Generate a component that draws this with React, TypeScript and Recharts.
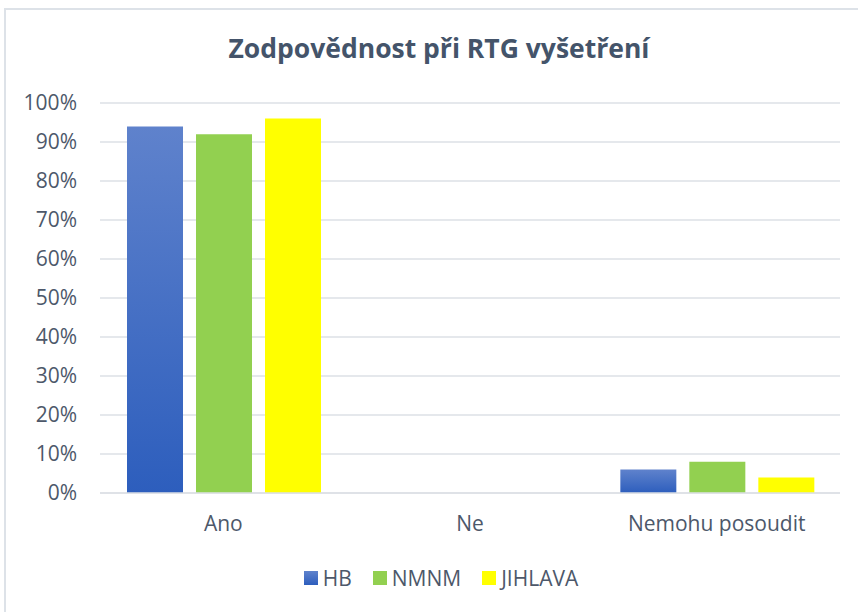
import { Bar, BarChart, CartesianGrid, XAxis, YAxis } from "recharts";

const categories = ["Ano", "Ne", "Nemohu posoudit"];
const hbValues = [94, 0, 6];
const nmnmValues = [92, 0, 8];
const jihlavaValues = [96, 0, 4];
const yTicks = [0, 10, 20, 30, 40, 50, 60, 70, 80, 90, 100];

const rows = categories.map((name, i) => ({
  name,
  HB: hbValues[i],
  NMNM: nmnmValues[i],
  JIHLAVA: jihlavaValues[i],
}));

const SERIES = [
  { key: "HB", fill: "url(#hbFill)", swatch: "linear-gradient(#5F82CC, #2D5EBD)" },
  { key: "NMNM", fill: "#92D050", swatch: "#92D050" },
  { key: "JIHLAVA", fill: "#FFFF00", swatch: "#FFFF00" },
];

const TEXT = "#4D586A";
const FONT = "'Open Sans', sans-serif";

function LegendRow() {
  return (
    <div
      style={{
        position: "absolute",
        left: 0,
        top: 564,
        width: 882,
        display: "flex",
        justifyContent: "center",
        gap: 21,
        fontFamily: FONT,
        fontSize: 21,
        color: TEXT,
      }}
    >
      {SERIES.map((s) => (
        <span key={s.key} style={{ display: "flex", alignItems: "center", gap: 5 }}>
          <span style={{ display: "inline-block", width: 14, height: 14, background: s.swatch }} />
          {s.key}
        </span>
      ))}
    </div>
  );
}

export default function App() {
  return (
    <div style={{ position: "absolute", left: 0, top: 0, width: 858, height: 612, overflow: "hidden", background: "#fff" }}>
      <div
        style={{
          position: "absolute",
          left: 4,
          top: 8,
          width: 900,
          height: 700,
          border: "2px solid #DDE2E8",
        }}
      />
      <div
        style={{
          position: "absolute",
          left: 0,
          top: 30,
          width: 878,
          textAlign: "center",
          fontFamily: FONT,
          fontWeight: 700,
          fontSize: 26.5,
          color: "#44546A",
        }}
      >
        Zodpovědnost při RTG vyšetření
      </div>
      <div style={{ position: "absolute", left: 0, top: 0 }}>
        <BarChart
          width={858}
          height={612}
          data={rows}
          margin={{ top: 103, right: 18, bottom: 89, left: 0 }}
          barCategoryGap={27}
          barGap={13}
        >
          <defs>
            <linearGradient id="hbFill" x1="0" y1="0" x2="0" y2="1">
              <stop offset="0%" stopColor="#5F82CC" />
              <stop offset="100%" stopColor="#2D5EBD" />
            </linearGradient>
          </defs>
          <CartesianGrid stroke="#DDE1E6" strokeWidth={1.5} vertical={false} />
          <XAxis
            dataKey="name"
            height={30}
            axisLine={{ stroke: "#DDE1E6", strokeWidth: 1.5 }}
            tickLine={false}
            tickMargin={17}
            tick={{ fill: TEXT, fontSize: 21, fontFamily: FONT }}
          />
          <YAxis
            width={100}
            domain={[0, 100]}
            ticks={yTicks}
            interval={0}
            axisLine={false}
            tickLine={false}
            tickMargin={17}
            tickFormatter={(v: number) => `${v}%`}
            tick={{ fill: TEXT, fontSize: 21, fontFamily: FONT }}
          />
          {SERIES.map((s) => (
            <Bar key={s.key} dataKey={s.key} fill={s.fill} isAnimationActive={false} />
          ))}
        </BarChart>
      </div>
      <LegendRow />
    </div>
  );
}
